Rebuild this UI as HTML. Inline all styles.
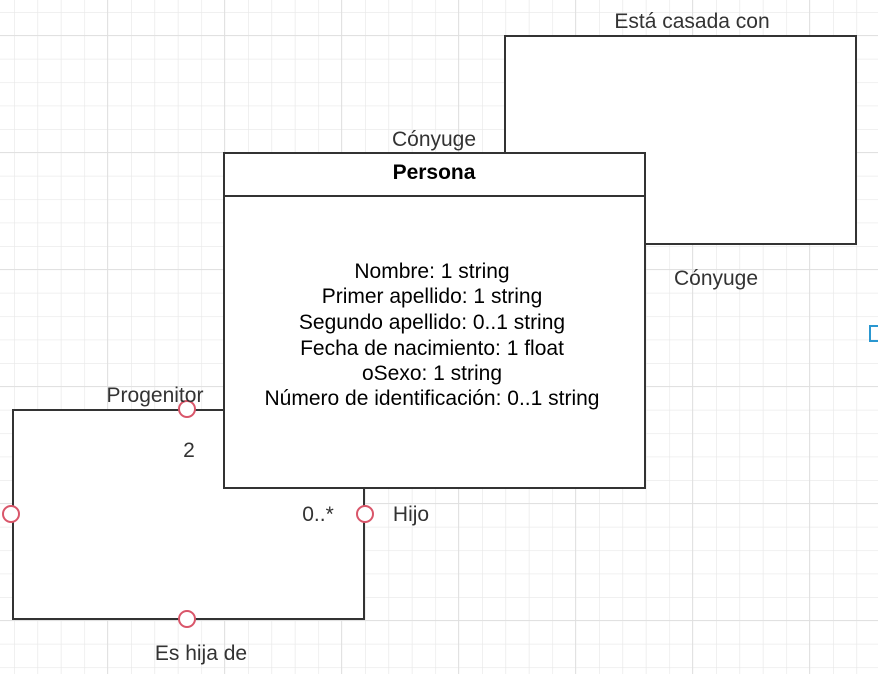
<!DOCTYPE html>
<html><head><meta charset="utf-8"><style>
html,body{margin:0;padding:0;background:#fff;}
svg{display:block;font-family:"Liberation Sans",sans-serif;}
</style></head><body>
<svg width="878" height="674" viewBox="0 0 878 674" xmlns="http://www.w3.org/2000/svg">
<defs>
<pattern id="g" x="14" y="12" width="23.4" height="23.4" patternUnits="userSpaceOnUse">
<path d="M0 0V23.4M0 0H23.4" stroke="#e8e8e8" stroke-width="1.3" fill="none"/>
</pattern>
<pattern id="G" x="107" y="35" width="117" height="117" patternUnits="userSpaceOnUse">
<path d="M0 0V117M0 0H117" stroke="#dedede" stroke-width="1.5" fill="none"/>
</pattern>
</defs>
<rect width="878" height="674" fill="url(#g)"/>
<rect width="878" height="674" fill="url(#G)"/>
<rect x="505" y="36" width="351" height="208" fill="#fff" stroke="#333" stroke-width="2"/>
<path d="M224 410H13V619H364V488" fill="#fff" stroke="#333" stroke-width="2"/>
<rect x="224" y="153" width="421" height="335" fill="#fff" stroke="#333" stroke-width="2"/>
<line x1="224" y1="196" x2="645" y2="196" stroke="#333" stroke-width="2"/>
<g fill="#fff" stroke="#d9566a" stroke-width="2">
<circle cx="187" cy="409" r="8"/><circle cx="11" cy="514" r="8"/>
<circle cx="187" cy="619" r="8"/><circle cx="365" cy="514" r="8"/>
</g>
<rect x="870" y="326" width="12" height="15" fill="none" stroke="#2a97d0" stroke-width="2"/>
<g fill="#333" font-size="21">
<text x="434" y="179" text-anchor="middle" font-weight="bold" fill="#000">Persona</text>
<g text-anchor="middle" fill="#000">
<text x="432" y="278">Nombre: 1 string</text>
<text x="432" y="303">Primer apellido: 1 string</text>
<text x="432" y="329">Segundo apellido: 0..1 string</text>
<text x="432" y="355">Fecha de nacimiento: 1 float</text>
<text x="432" y="380">oSexo: 1 string</text>
<text x="432" y="405">Número de identificación: 0..1 string</text>
</g>
<text x="692" y="28" text-anchor="middle">Está casada con</text>
<text x="434" y="146" text-anchor="middle">Cónyuge</text>
<text x="716" y="285" text-anchor="middle">Cónyuge</text>
<text x="155" y="402" text-anchor="middle">Progenitor</text>
<text x="189" y="457" text-anchor="middle">2</text>
<text x="318" y="521" text-anchor="middle">0..*</text>
<text x="411" y="521" text-anchor="middle">Hijo</text>
<text x="201" y="660" text-anchor="middle">Es hija de</text>
</g>
</svg>
</body></html>
